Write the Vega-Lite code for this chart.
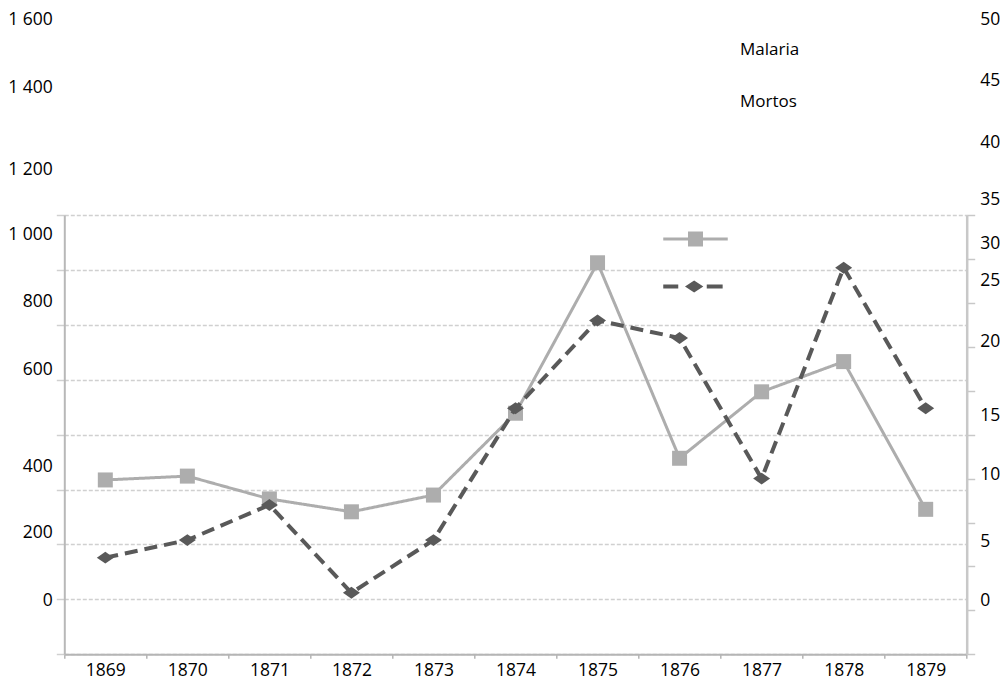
{
  "$schema": "https://vega.github.io/schema/vega-lite/v6.json",
  "width": 902.4,
  "height": 439.3,
  "autosize": "none",
  "padding": {"left": 64.3, "top": 215, "right": 40.3, "bottom": 21.7},
  "background": "white",
  "config": {
    "view": {"stroke": null},
    "font": "Open Sans",
    "axis": {"labelFont": "Open Sans", "labelFontSize": 17.5, "labelColor": "#000000", "title": null, "labelOverlap": false, "labelFlush": false}
  },
  "datasets": {
    "malaria": [
      {"ano": "1869", "serie": "Malaria", "valor": 635},
      {"ano": "1870", "serie": "Malaria", "valor": 649},
      {"ano": "1871", "serie": "Malaria", "valor": 566},
      {"ano": "1872", "serie": "Malaria", "valor": 519},
      {"ano": "1873", "serie": "Malaria", "valor": 580},
      {"ano": "1874", "serie": "Malaria", "valor": 878},
      {"ano": "1875", "serie": "Malaria", "valor": 1426},
      {"ano": "1876", "serie": "Malaria", "valor": 714},
      {"ano": "1877", "serie": "Malaria", "valor": 956},
      {"ano": "1878", "serie": "Malaria", "valor": 1066},
      {"ano": "1879", "serie": "Malaria", "valor": 528}
    ],
    "mortos": [
      {"ano": "1869", "serie": "Mortos", "valor": 11},
      {"ano": "1870", "serie": "Mortos", "valor": 13},
      {"ano": "1871", "serie": "Mortos", "valor": 17},
      {"ano": "1872", "serie": "Mortos", "valor": 7},
      {"ano": "1873", "serie": "Mortos", "valor": 13},
      {"ano": "1874", "serie": "Mortos", "valor": 28},
      {"ano": "1875", "serie": "Mortos", "valor": 38},
      {"ano": "1876", "serie": "Mortos", "valor": 36},
      {"ano": "1877", "serie": "Mortos", "valor": 20},
      {"ano": "1878", "serie": "Mortos", "valor": 44},
      {"ano": "1879", "serie": "Mortos", "valor": 28}
    ]
  },
  "encoding": {
    "x": {
      "field": "ano", "type": "ordinal",
      "scale": {"type": "band", "paddingInner": 0, "paddingOuter": 0},
      "axis": {"title": null, "labelAngle": 0, "tickBand": "extent", "tickSize": 4, "tickColor": "#b5b5b5", "tickWidth": 1.5, "domainColor": "#b5b5b5", "domainWidth": 2, "labelPadding": 3, "grid": false}
    },
    "color": {
      "field": "serie", "type": "nominal",
      "scale": {"range": ["#adadad", "#595959"]},
      "legend": {"orient": "none", "legendX": 658.7, "legendY": -173.9, "title": null, "symbolOpacity": 0, "symbolSize": 16, "symbolStrokeWidth": 0, "labelOffset": 0, "labelFont": "Open Sans", "labelFontSize": 17, "labelColor": "#000000", "rowPadding": 34.4, "padding": 0}
    }
  },
  "layer": [
    {
      "data": {"name": "malaria"},
      "encoding": {
        "y": {
          "field": "valor", "type": "quantitative",
          "scale": {"domain": [0, 1600], "nice": false},
          "axis": {
            "orient": "left", "title": null,
            "values": [0, 200, 400, 600, 800, 1000, 1200, 1400, 1600],
            "grid": true, "gridColor": "#d0d0d0", "gridDash": [4, 2], "gridWidth": 1.5,
            "domain": true, "domainColor": "#b8b8b8", "domainWidth": 2,
            "ticks": true, "tickSize": 8, "tickColor": "#d0d0d0", "tickWidth": 1.5,
            "labelPadding": 4,
            "labelExpr": "replace(format(datum.value, ','), ',', ' ')",
            "labelOffset": {"expr": "[-54.3,-66.4,-77.8,-119.6,-132.7,-144.8,-154.9,-182.7,-196][round(datum.value/200)]"}
          }
        }
      },
      "layer": [
        {
          "mark": {"type": "line", "strokeWidth": 3},
          "encoding": {
            "strokeDash": {
              "field": "serie", "type": "nominal",
              "scale": {"domain": ["Malaria", "Mortos"], "range": [[1, 0], [13, 7]]},
              "legend": {
                "orient": "none", "legendX": 616.2, "legendY": 9, "title": null, "symbolSize": 900,
                "symbolType": {"expr": "datum.value === 'Malaria' ? 'M-2.15,-0.1H2.15V0.1H-2.15Z M-0.5,-0.5H0.5V0.5H-0.5Z' : 'M-2.15,-0.13H-1.15V0.13H-2.15Z M-0.7,0L-0.09,-0.4L0.52,0L-0.09,0.4Z M0.75,-0.13H1.81V0.13H0.75Z'"},
                "symbolFillColor": {"expr": "datum.value === 'Malaria' ? '#adadad' : '#595959'"},
                "symbolStrokeColor": "transparent", "symbolStrokeWidth": 0, "symbolOpacity": 1,
                "labelExpr": "''", "rowPadding": 24.5, "padding": 0
              }
            }
          }
        },
        {"mark": {"type": "point", "shape": "square", "filled": true, "opacity": 1, "size": 225, "strokeWidth": 0}}
      ]
    },
    {
      "data": {"name": "mortos"},
      "encoding": {
        "y": {
          "field": "valor", "type": "quantitative",
          "scale": {"domain": [0, 50], "nice": false},
          "axis": {
            "orient": "right", "title": null,
            "values": [0, 5, 10, 15, 20, 25, 30, 35, 40, 45, 50],
            "grid": false,
            "domain": true, "domainColor": "#c8c8c8", "domainWidth": 2.5,
            "ticks": true, "tickSize": 8, "tickColor": "#c8c8c8", "tickWidth": 1.5,
            "labelPadding": 5,
            "labelOffset": {"expr": "[-54.3,-68.7,-92.4,-107.5,-136.9,-153.7,-147.7,-147.5,-160.2,-178.2,-196][round(datum.value/5)]"}
          }
        }
      },
      "layer": [
        {
          "mark": {"type": "line", "strokeWidth": 4},
          "encoding": {
            "strokeDash": {
              "field": "serie", "type": "nominal",
              "scale": {"domain": ["Malaria", "Mortos"], "range": [[1, 0], [13, 7]]},
              "legend": {
                "orient": "none", "legendX": 616.2, "legendY": 9, "title": null, "symbolSize": 900,
                "symbolType": {"expr": "datum.value === 'Malaria' ? 'M-2.15,-0.1H2.15V0.1H-2.15Z M-0.5,-0.5H0.5V0.5H-0.5Z' : 'M-2.15,-0.13H-1.15V0.13H-2.15Z M-0.7,0L-0.09,-0.4L0.52,0L-0.09,0.4Z M0.75,-0.13H1.81V0.13H0.75Z'"},
                "symbolFillColor": {"expr": "datum.value === 'Malaria' ? '#adadad' : '#595959'"},
                "symbolStrokeColor": "transparent", "symbolStrokeWidth": 0, "symbolOpacity": 1,
                "labelExpr": "''", "rowPadding": 24.5, "padding": 0
              }
            }
          }
        },
        {"mark": {"type": "point", "shape": "M-1,0L0,-0.7L1,0L0,0.7Z", "filled": true, "opacity": 1, "size": 289, "strokeWidth": 0}}
      ]
    }
  ],
  "resolve": {"scale": {"y": "independent"}}
}
